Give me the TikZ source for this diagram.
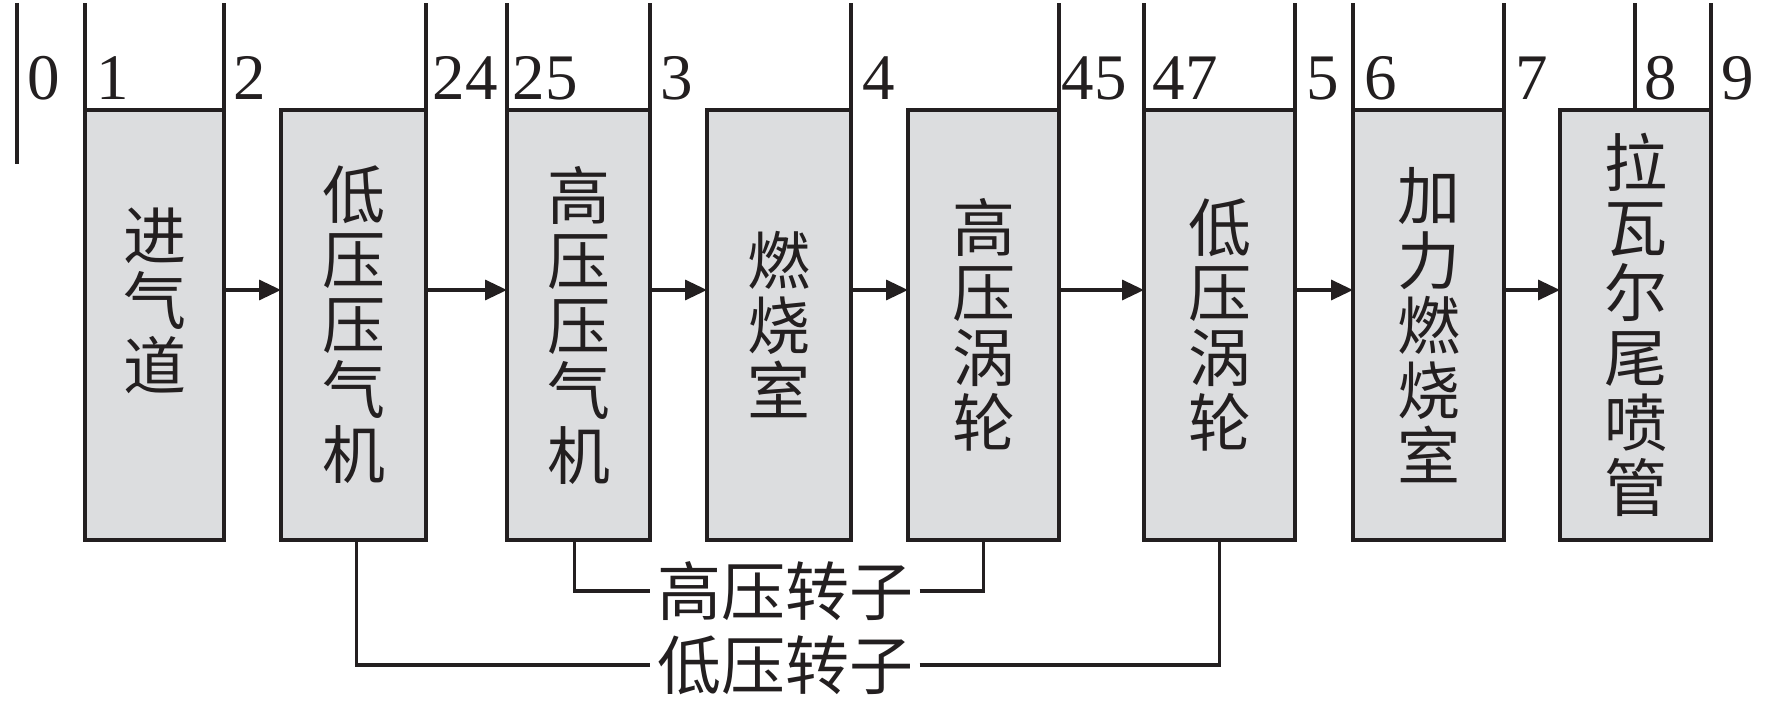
\documentclass[tikz,border=0pt]{standalone}
\usepackage{fontspec}
\setmainfont{Liberation Serif}
\newfontfamily\cjk{Noto Sans CJK SC}
\usetikzlibrary{arrows.meta}
\definecolor{boxfill}{HTML}{DCDDDF}
\definecolor{ink}{HTML}{231F20}
\begin{document}
\begin{tikzpicture}[x=1pt,y=-1pt,line width=3.4pt,color=ink,
  box/.style={draw=ink,fill=boxfill,line width=3.4pt,inner sep=0pt,outer sep=0pt,
    minimum height=430pt,anchor=north west,align=center,
    font=\cjk\fontsize{63}{65}\selectfont},
  num/.style={anchor=base west,inner sep=0pt,font=\fontsize{65}{65}\selectfont,text=ink},
  rotor/.style={inner xsep=5pt,inner ysep=0pt,font=\cjk\fontsize{64}{64}\selectfont,text=ink},
  arr/.style={-{Triangle[length=22pt,width=20pt]}}]
\useasboundingbox (0,0) rectangle (1772,714);
\coordinate (top) at (0,3);
\coordinate (lab) at (0,100);
% boxes
\node[box,minimum width=139pt] (b1) at (85,110) {};
\node[box,minimum width=145pt] (b2) at (281,110) {低\\压\\压\\气\\机};
\node[box,minimum width=143pt] (b3) at (507,110) {高\\压\\压\\气\\机};
\node[box,minimum width=144pt] (b4) at (707,110) {燃\\烧\\室};
\node[box,minimum width=151pt] (b5) at (908,110) {高\\压\\涡\\轮};
\node[box,minimum width=151pt] (b6) at (1144,110) {低\\压\\涡\\轮};
\node[box,minimum width=151pt] (b7) at (1353,110) {加\\力\\燃\\烧\\室};
\node[box,minimum width=151pt] (b8) at (1560,110) {拉\\瓦\\尔\\尾\\喷\\管};
\node[align=center,inner sep=0pt,font=\cjk\fontsize{63}{65}\selectfont,text=ink] (t1) at ([yshift=24pt]b1.center) {进\\气\\道};
% station lines
\draw (17,3) -- (17,164);
\draw (b1.north west) -- (b1.north west |- top);
\draw (b1.north east) -- (b1.north east |- top);
\draw (b2.north east) -- (b2.north east |- top);
\draw (b3.north west) -- (b3.north west |- top);
\draw (b3.north east) -- (b3.north east |- top);
\draw (b4.north east) -- (b4.north east |- top);
\draw (b5.north east) -- (b5.north east |- top);
\draw (b6.north west) -- (b6.north west |- top);
\draw (b6.north east) -- (b6.north east |- top);
\draw (b7.north west) -- (b7.north west |- top);
\draw (b7.north east) -- (b7.north east |- top);
\draw (b8.north east) -- (b8.north east |- top);
\coordinate (s8) at (1635,110);
\draw (s8) -- (s8 |- top);
% station numbers
\node[num,xshift=9pt] at (17,100) {0};
\node[num,xshift=10pt] at (b1.north west |- lab) {1};
\node[num,xshift=8pt] at (b1.north east |- lab) {2};
\node[num,xshift=5pt] at (b2.north east |- lab) {24};
\node[num,xshift=4pt] at (b3.north west |- lab) {25};
\node[num,xshift=9pt] at (b3.north east |- lab) {3};
\node[num,xshift=10pt] at (b4.north east |- lab) {4};
\node[num,xshift=1pt] at (b5.north east |- lab) {45};
\node[num,xshift=7pt] at (b6.north west |- lab) {47};
\node[num,xshift=10pt] at (b6.north east |- lab) {5};
\node[num,xshift=10pt] at (b7.north west |- lab) {6};
\node[num,xshift=10pt] at (b7.north east |- lab) {7};
\node[num,xshift=8pt] at (s8 |- lab) {8};
\node[num,xshift=9pt] at (b8.north east |- lab) {9};
% flow arrows
\draw[arr] ([yshift=35pt]b1.east) -- ([yshift=35pt]b2.west);
\draw[arr] ([yshift=35pt]b2.east) -- ([yshift=35pt]b3.west);
\draw[arr] ([yshift=35pt]b3.east) -- ([yshift=35pt]b4.west);
\draw[arr] ([yshift=35pt]b4.east) -- ([yshift=35pt]b5.west);
\draw[arr] ([yshift=35pt]b5.east) -- ([yshift=35pt]b6.west);
\draw[arr] ([yshift=35pt]b6.east) -- ([yshift=35pt]b7.west);
\draw[arr] ([yshift=35pt]b7.east) -- ([yshift=35pt]b8.west);
% rotors
\node[rotor] (hp) at (785,591) {高压转子};
\node[rotor] (lp) at (785,665) {低压转子};
\draw ([xshift=-4pt]b3.south) |- (hp.west);
\draw (hp.east) -| (b5.south);
\draw ([xshift=3pt]b2.south) |- (lp.west);
\draw (lp.east) -| (b6.south);
\end{tikzpicture}
\end{document}
